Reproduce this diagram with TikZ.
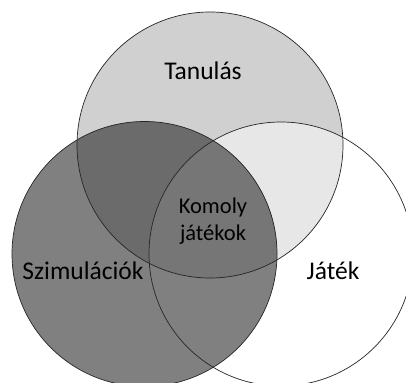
\documentclass[tikz,border=0pt]{standalone}
\usepackage{fontspec}
\setmainfont{Carlito}
\begin{document}
\begin{tikzpicture}[x=1pt,y=-1pt,
  outline/.style={draw=black!85,line width=0.7pt},
  bigtxt/.style={font=\fontsize{25.5}{30}\selectfont,anchor=base,inner sep=0pt},
  smalltxt/.style={font=\fontsize{22.5}{27}\selectfont,anchor=base,inner sep=0pt}]
\useasboundingbox (0,0) rectangle (406,382);
\clip (0,0) rectangle (406,382);
\def\topc{(210,145) circle[radius=133]}
\def\leftc{(144.5,254) circle[radius=132.5]}
\def\rightc{(281,254) circle[radius=132]}
\fill[fill={rgb,255:red,208;green,208;blue,208}] \topc;
\begin{scope}\clip \topc; \fill[fill={rgb,255:red,231;green,231;blue,231}] \rightc;\end{scope}
\fill[fill={rgb,255:red,128;green,128;blue,128}] \leftc;
\begin{scope}\clip \leftc; \fill[fill={rgb,255:red,107;green,107;blue,107}] \topc;
  \clip \topc; \fill[fill={rgb,255:red,118;green,118;blue,118}] \rightc;\end{scope}
\draw[outline] \topc;
\draw[outline] \leftc;
\draw[outline] \rightc;
\node[bigtxt] (tan) at (203,80) {Tanulás};
\node[bigtxt] (szi) at (83,279) {Szimulációk};
\node[bigtxt] (jat) at (333,279) {Játék};
\node[smalltxt] (kom1) at (213,213) {Komoly};
\node[smalltxt] (kom2) at (213,240) {játékok};
\end{tikzpicture}
\end{document}
